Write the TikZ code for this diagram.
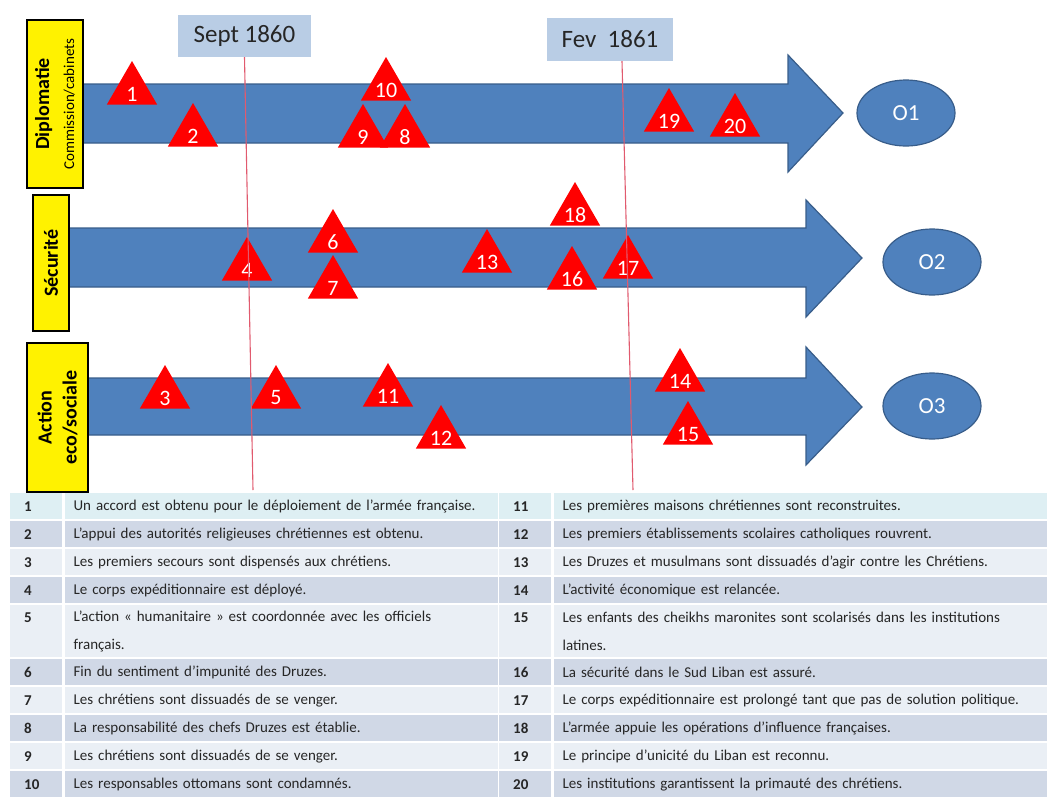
\documentclass[tikz,border=0pt]{standalone}
\usepackage{fontspec}
\setmainfont{Carlito}
\newfontfamily\tablefont{Carlito}[WordSpace=0.55]
\usetikzlibrary{positioning,shapes.geometric}

\definecolor{flecheBleu}{RGB}{79,129,189}
\definecolor{bordBleu}{RGB}{56,93,138}
\definecolor{dateBleu}{RGB}{185,205,229}
\definecolor{ligneRouge}{RGB}{225,90,110}
\definecolor{rangPremier}{RGB}{222,239,243}
\definecolor{rangClair}{RGB}{234,239,245}
\definecolor{rangFonce}{RGB}{208,216,230}
\definecolor{texteGris}{RGB}{38,38,38}

\tikzset{
  axe/.style={fill=flecheBleu,draw=bordBleu,line width=1.2pt},
  jalon/.style={regular polygon,regular polygon sides=3,fill=red,minimum size=58pt,inner sep=0pt,
    label={[text=white,font=\fontsize{22}{22}\selectfont,yshift=-4pt]center:#1}},
  objectif/.style={ellipse,fill=flecheBleu,draw=bordBleu,line width=1.2pt,minimum width=98pt,
    minimum height=66pt,text=white,font=\fontsize{23}{23}\selectfont},
  domaine/.style={fill=yellow,draw=black,line width=1.3pt,rotate=90,inner sep=0pt,align=center,
    font=\bfseries\fontsize{20}{25}\selectfont},
  datebox/.style={fill=dateBleu,inner sep=0pt,text=texteGris,font=\fontsize{25}{25}\selectfont},
  repere/.style={ligneRouge,line width=1.1pt},
  numcell/.style={anchor=north west,inner xsep=14pt,inner ysep=0pt,text width=24pt,minimum height=26pt,
    align=left,text=texteGris,font=\tablefont\bfseries\fontsize{15}{28}\selectfont},
  txtcell/.style={inner xsep=9pt,inner ysep=0pt,text width=#1,minimum height=26pt,
    align=left,text=texteGris,font=\tablefont\fontsize{15}{28}\selectfont},
}

\begin{document}
\begin{tikzpicture}[x=1pt,y=-1pt]
\useasboundingbox (0,0) rectangle (1053,807);

% axes
\draw[axe] (83,84) -- (788,84) -- (788,55) -- (843,113) -- (788,172) -- (788,143) -- (83,143) -- cycle;
\draw[axe] (69,228) -- (806,228) -- (806,200) -- (862,258) -- (806,317) -- (806,287) -- (69,287) -- cycle;
\draw[axe] (88,378) -- (806,378) -- (806,347) -- (862,407) -- (806,465) -- (806,435) -- (88,435) -- cycle;

% objectifs
\node[objectif] (o1) at (906,113) {O1};
\node[objectif] (o2) at (932,262) {O2};
\node[objectif] (o3) at (932,406) {O3};

% domaines
\node[domaine,minimum width=168pt,minimum height=56pt] (dipl) at (55,104)
  {Diplomatie\\{\mdseries\fontsize{15}{25}\selectfont Commission/cabinets}};
\node[domaine,minimum width=136pt,minimum height=36pt] (secu) at (51,263) {Sécurité};
\node[domaine,minimum width=149pt,minimum height=61pt] (eco) at (57.5,417.5) {Action\\eco/sociale};

% jalons
\node[jalon=1] (j1) at (132,90) {};
\node[jalon=2] (j2) at (193,132) {};
\node[jalon=3] (j3) at (165,394) {};
\node[jalon=4] (j4) at (247,266) {};
\node[jalon=5] (j5) at (276,394) {};
\node[jalon=6] (j6) at (333,238) {};
\node[jalon=7] (j7) at (333,284) {};
\node[jalon=8] (j8) at (405,133) {};
\node[jalon=9] (j9) at (363,133) {};
\node[jalon=10] (j10) at (386,86) {};
\node[jalon=11] (j11) at (388,392) {};
\node[jalon=12] (j12) at (441,434) {};
\node[jalon=13] (j13) at (487,258) {};
\node[jalon=14] (j14) at (680,377) {};
\node[jalon=15] (j15) at (688,430) {};
\node[jalon=16] (j16) at (572,275) {};
\node[jalon=17] (j17) at (628,264) {};
\node[jalon=18] (j18) at (575,211) {};
\node[jalon=19] (j19) at (669,117) {};
\node[jalon=20] (j20) at (735,122) {};

% dates
\node[datebox,minimum width=133pt,minimum height=42pt] (sept) at (244.5,36) {Sept 1860};
\node[datebox,minimum width=126pt,minimum height=43pt] (fev) at (610,39.5) {Fev~ 1861};
\coordinate (septbas) at (253,490);
\coordinate (fevbas) at (633,490);
\draw[repere] (sept.south) -- (septbas);
\draw[repere] ([xshift=12pt]fev.south) -- (fevbas);

% tableau gauche
\node[numcell,fill=rangPremier] (n1) at (10,493) {1};
\node[txtcell=415pt,fill=rangPremier,right=2pt of n1] (t1) {Un accord est obtenu pour le déploiement de l’armée française.};
\node[numcell,fill=rangFonce] (n2) at (10,521) {2};
\node[txtcell=415pt,fill=rangFonce,right=2pt of n2] (t2) {L’appui des autorités religieuses chrétiennes est obtenu.};
\node[numcell,fill=rangClair] (n3) at (10,549) {3};
\node[txtcell=415pt,fill=rangClair,right=2pt of n3] (t3) {Les premiers secours sont dispensés aux chrétiens.};
\node[numcell,fill=rangFonce] (n4) at (10,577) {4};
\node[txtcell=415pt,fill=rangFonce,right=2pt of n4] (t4) {Le corps expéditionnaire est déployé.};
\node[numcell,fill=rangClair,minimum height=52pt] (n5) at (10,605) {5\\~};
\node[txtcell=415pt,fill=rangClair,minimum height=52pt,right=2pt of n5] (t5) {L’action « humanitaire » est coordonnée avec les officiels\\français.};
\node[numcell,fill=rangFonce] (n6) at (10,659) {6};
\node[txtcell=415pt,fill=rangFonce,right=2pt of n6] (t6) {Fin du sentiment d’impunité des Druzes.};
\node[numcell,fill=rangClair] (n7) at (10,687) {7};
\node[txtcell=415pt,fill=rangClair,right=2pt of n7] (t7) {Les chrétiens sont dissuadés de se venger.};
\node[numcell,fill=rangFonce] (n8) at (10,715) {8};
\node[txtcell=415pt,fill=rangFonce,right=2pt of n8] (t8) {La responsabilité des chefs Druzes est établie.};
\node[numcell,fill=rangClair] (n9) at (10,743) {9};
\node[txtcell=415pt,fill=rangClair,right=2pt of n9] (t9) {Les chrétiens sont dissuadés de se venger.};
\node[numcell,fill=rangFonce] (n10) at (10,771) {10};
\node[txtcell=415pt,fill=rangFonce,right=2pt of n10] (t10) {Les responsables ottomans sont condamnés.};

% tableau droit
\node[numcell,fill=rangPremier] (n11) at (499,493) {11};
\node[txtcell=475pt,fill=rangPremier,right=2pt of n11] (t11) {Les premières maisons chrétiennes sont reconstruites.};
\node[numcell,fill=rangFonce] (n12) at (499,521) {12};
\node[txtcell=475pt,fill=rangFonce,right=2pt of n12] (t12) {Les premiers établissements scolaires catholiques rouvrent.};
\node[numcell,fill=rangClair] (n13) at (499,549) {13};
\node[txtcell=475pt,fill=rangClair,right=2pt of n13] (t13) {Les Druzes et musulmans sont dissuadés d’agir contre les Chrétiens.};
\node[numcell,fill=rangFonce] (n14) at (499,577) {14};
\node[txtcell=475pt,fill=rangFonce,right=2pt of n14] (t14) {L’activité économique est relancée.};
\node[numcell,fill=rangClair,minimum height=52pt] (n15) at (499,605) {15\\~};
\node[txtcell=475pt,fill=rangClair,minimum height=52pt,right=2pt of n15] (t15) {Les enfants des cheikhs maronites sont scolarisés dans les institutions\\latines.};
\node[numcell,fill=rangFonce] (n16) at (499,659) {16};
\node[txtcell=475pt,fill=rangFonce,right=2pt of n16] (t16) {La sécurité dans le Sud Liban est assuré.};
\node[numcell,fill=rangClair] (n17) at (499,687) {17};
\node[txtcell=475pt,fill=rangClair,right=2pt of n17] (t17) {Le corps expéditionnaire est prolongé tant que pas de solution politique.};
\node[numcell,fill=rangFonce] (n18) at (499,715) {18};
\node[txtcell=475pt,fill=rangFonce,right=2pt of n18] (t18) {L’armée appuie les opérations d’influence françaises.};
\node[numcell,fill=rangClair] (n19) at (499,743) {19};
\node[txtcell=475pt,fill=rangClair,right=2pt of n19] (t19) {Le principe d’unicité du Liban est reconnu.};
\node[numcell,fill=rangFonce] (n20) at (499,771) {20};
\node[txtcell=475pt,fill=rangFonce,right=2pt of n20] (t20) {Les institutions garantissent la primauté des chrétiens.};
\end{tikzpicture}
\end{document}
